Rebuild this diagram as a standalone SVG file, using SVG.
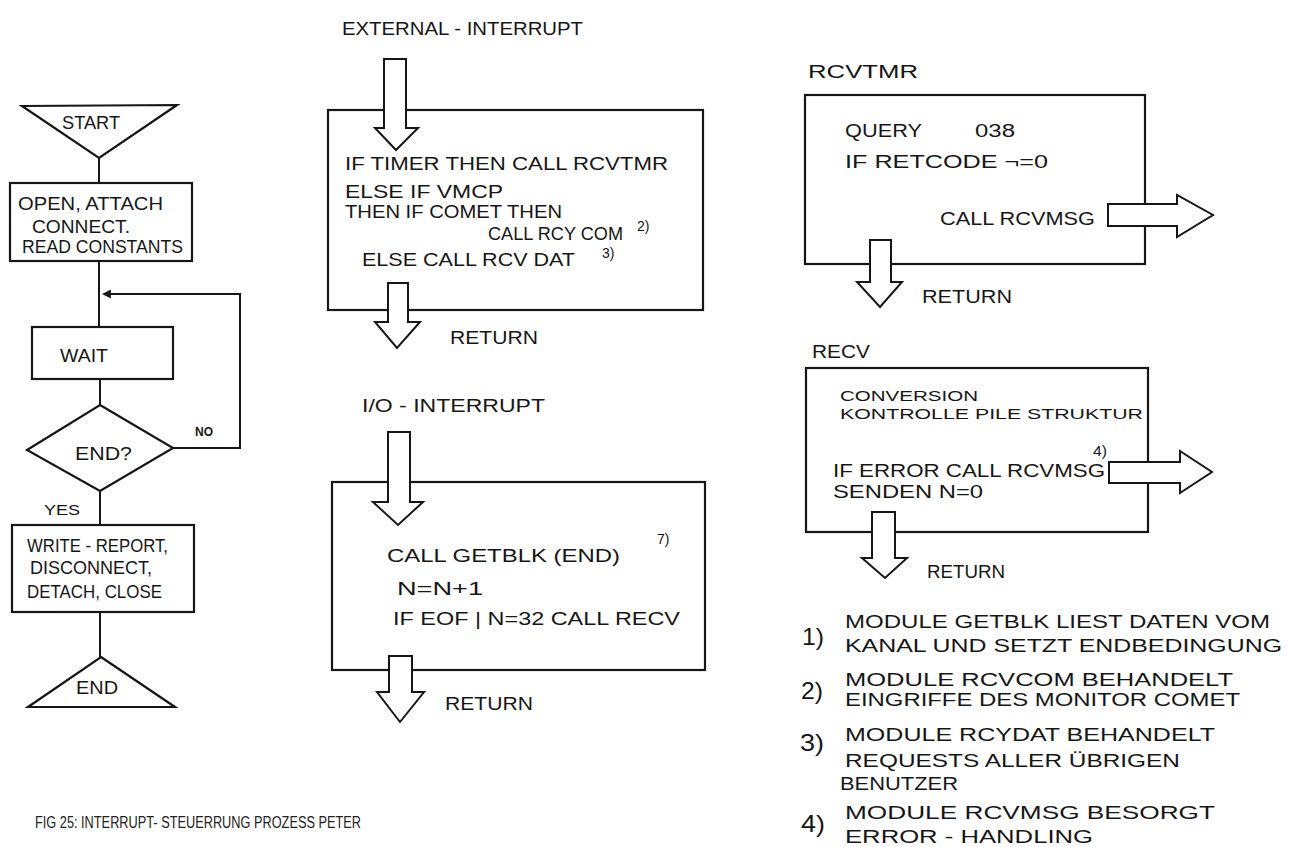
<svg xmlns="http://www.w3.org/2000/svg" width="1301" height="847" viewBox="0 0 1301 847">
<style>
.bg{fill:#ffffff}
.box{fill:#ffffff;stroke:#161616;stroke-width:2.2}
.ln{fill:none;stroke:#161616;stroke-width:2}
.blk{fill:#ffffff;stroke:#161616;stroke-width:2;stroke-linejoin:miter}
.t{font-family:"Liberation Sans",Arial,sans-serif;font-size:18px;fill:#161616}
.s{font-size:14px}
.n{font-size:24px}
.sm{font-size:15px}
.cap{font-family:"Liberation Sans",Arial,sans-serif;font-size:16px;fill:#222}
</style>
<defs>
<marker id="ah" viewBox="0 0 10 10" refX="1" refY="5" markerWidth="9" markerHeight="9" markerUnits="userSpaceOnUse" orient="auto-start-reverse">
<path d="M0,0 L10,5 L0,10 z" fill="#161616"/>
</marker>
</defs>
<rect class="bg" x="0" y="0" width="1301" height="847"/>

<!-- Left flowchart nodes -->
<g id="start">
<polygon class="box" points="22,106 177,105 99,158"/>
<text class="t" x="62" y="129" textLength="58" lengthAdjust="spacingAndGlyphs">START</text>
</g>
<g id="open">
<rect class="box" x="10" y="183" width="182" height="78"/>
<text class="t" x="18" y="210" textLength="145" lengthAdjust="spacingAndGlyphs">OPEN, ATTACH</text>
<text class="t" x="32" y="233" textLength="98" lengthAdjust="spacingAndGlyphs">CONNECT.</text>
<text class="t" x="22" y="253" textLength="161" lengthAdjust="spacingAndGlyphs">READ CONSTANTS</text>
</g>
<g id="wait">
<rect class="box" x="32" y="327" width="141" height="52"/>
<text class="t" x="60" y="362" textLength="48" lengthAdjust="spacingAndGlyphs">WAIT</text>
</g>
<g id="enddec">
<polygon class="box" points="100,405 173,448 100,491 27,450"/>
<text class="t" x="75" y="460" textLength="57" lengthAdjust="spacingAndGlyphs">END?</text>
</g>
<g id="write">
<rect class="box" x="12" y="525" width="182" height="87"/>
<text class="t" x="27" y="552" textLength="141" lengthAdjust="spacingAndGlyphs">WRITE - REPORT,</text>
<text class="t" x="30" y="574" textLength="122" lengthAdjust="spacingAndGlyphs">DISCONNECT,</text>
<text class="t" x="27" y="598" textLength="135" lengthAdjust="spacingAndGlyphs">DETACH, CLOSE</text>
</g>
<g id="end">
<polygon class="box" points="101,657 175,707 28,707"/>
<text class="t" x="76" y="694" textLength="42" lengthAdjust="spacingAndGlyphs">END</text>
</g>

<!-- Middle: external interrupt -->
<g id="ext">
<text class="t" x="342" y="35" textLength="241" lengthAdjust="spacingAndGlyphs">EXTERNAL - INTERRUPT</text>
<rect class="box" x="328" y="110" width="375" height="200"/>
<text class="t" x="345" y="170" textLength="323" lengthAdjust="spacingAndGlyphs">IF TIMER THEN CALL RCVTMR</text>
<text class="t" x="345" y="198" textLength="158" lengthAdjust="spacingAndGlyphs">ELSE IF VMCP</text>
<text class="t" x="345" y="218" textLength="217" lengthAdjust="spacingAndGlyphs">THEN IF COMET THEN</text>
<text class="t" x="488" y="240" textLength="135" lengthAdjust="spacingAndGlyphs">CALL RCY COM</text>
<text class="t s" x="637" y="231">2)</text>
<text class="t" x="362" y="266" textLength="213" lengthAdjust="spacingAndGlyphs">ELSE CALL RCV DAT</text>
<text class="t s" x="602" y="258">3)</text>
<text class="t" x="450" y="344" textLength="88" lengthAdjust="spacingAndGlyphs">RETURN</text>
</g>

<!-- Middle: I/O interrupt -->
<g id="io">
<text class="t" x="362" y="412" textLength="183" lengthAdjust="spacingAndGlyphs">I/O - INTERRUPT</text>
<rect class="box" x="332" y="482" width="373" height="188"/>
<text class="t" x="387" y="562" textLength="233" lengthAdjust="spacingAndGlyphs">CALL GETBLK (END)</text>
<text class="t s" x="657" y="544">7)</text>
<text class="t" x="397" y="595" textLength="86" lengthAdjust="spacingAndGlyphs">N=N+1</text>
<text class="t" x="393" y="625" textLength="287" lengthAdjust="spacingAndGlyphs">IF EOF | N=32 CALL RECV</text>
<text class="t" x="445" y="710" textLength="88" lengthAdjust="spacingAndGlyphs">RETURN</text>
</g>

<!-- Right: RCVTMR -->
<g id="rcvtmr">
<text class="t" x="808" y="78" textLength="110" lengthAdjust="spacingAndGlyphs">RCVTMR</text>
<rect class="box" x="805" y="95" width="340" height="169"/>
<text class="t" x="845" y="137" textLength="77" lengthAdjust="spacingAndGlyphs">QUERY</text>
<text class="t" x="975" y="137" textLength="40" lengthAdjust="spacingAndGlyphs">038</text>
<text class="t" x="845" y="168" textLength="203" lengthAdjust="spacingAndGlyphs">IF RETCODE ¬=0</text>
<text class="t" x="940" y="225" textLength="155" lengthAdjust="spacingAndGlyphs">CALL RCVMSG</text>
<text class="t" x="922" y="303" textLength="90" lengthAdjust="spacingAndGlyphs">RETURN</text>
</g>

<!-- Right: RECV -->
<g id="recv">
<text class="t" x="812" y="358" textLength="58" lengthAdjust="spacingAndGlyphs">RECV</text>
<rect class="box" x="806" y="368" width="342" height="164"/>
<text class="t sm" x="840" y="401" textLength="138" lengthAdjust="spacingAndGlyphs">CONVERSION</text>
<text class="t sm" x="840" y="419" textLength="303" lengthAdjust="spacingAndGlyphs">KONTROLLE  PILE STRUKTUR</text>
<text class="t s" x="1093" y="456" textLength="14" lengthAdjust="spacingAndGlyphs">4)</text>
<text class="t" x="833" y="477" textLength="272" lengthAdjust="spacingAndGlyphs">IF ERROR  CALL RCVMSG</text>
<text class="t" x="833" y="498" textLength="150" lengthAdjust="spacingAndGlyphs">SENDEN  N=0</text>
<text class="t" x="927" y="578" textLength="78" lengthAdjust="spacingAndGlyphs">RETURN</text>
</g>

<!-- Notes -->
<g id="notes">
<text class="t n" x="802" y="645" textLength="22" lengthAdjust="spacingAndGlyphs">1)</text>
<text class="t" x="845" y="628" textLength="425" lengthAdjust="spacingAndGlyphs">MODULE GETBLK LIEST DATEN VOM</text>
<text class="t" x="845" y="652" textLength="437" lengthAdjust="spacingAndGlyphs">KANAL UND SETZT ENDBEDINGUNG</text>
<text class="t n" x="801" y="699" textLength="22" lengthAdjust="spacingAndGlyphs">2)</text>
<text class="t" x="845" y="686" textLength="388" lengthAdjust="spacingAndGlyphs">MODULE RCVCOM BEHANDELT</text>
<text class="t" x="845" y="706" textLength="395" lengthAdjust="spacingAndGlyphs">EINGRIFFE DES MONITOR COMET</text>
<text class="t n" x="800" y="751" textLength="24" lengthAdjust="spacingAndGlyphs">3)</text>
<text class="t" x="845" y="741" textLength="370" lengthAdjust="spacingAndGlyphs">MODULE RCYDAT BEHANDELT</text>
<text class="t" x="845" y="767" textLength="335" lengthAdjust="spacingAndGlyphs">REQUESTS ALLER ÜBRIGEN</text>
<text class="t" x="840" y="790" textLength="118" lengthAdjust="spacingAndGlyphs">BENUTZER</text>
<text class="t n" x="801" y="832" textLength="24" lengthAdjust="spacingAndGlyphs">4)</text>
<text class="t" x="845" y="819" textLength="370" lengthAdjust="spacingAndGlyphs">MODULE RCVMSG BESORGT</text>
<text class="t" x="845" y="843" textLength="248" lengthAdjust="spacingAndGlyphs">ERROR - HANDLING</text>
</g>

<g id="caption">
<text class="cap" x="35" y="828" textLength="326" lengthAdjust="spacingAndGlyphs">FIG 25: INTERRUPT- STEUERRUNG PROZESS PETER</text>
</g>

<!-- Connectors -->
<g id="connectors">
<line class="ln" x1="99" y1="158" x2="99" y2="183"/>
<line class="ln" x1="99" y1="261" x2="99" y2="327"/>
<line class="ln" x1="100" y1="379" x2="100" y2="405"/>
<line class="ln" x1="100" y1="491" x2="100" y2="525"/>
<line class="ln" x1="100" y1="612" x2="100" y2="657"/>
<polyline class="ln" points="173,448 240,448 240,294 110,294" marker-end="url(#ah)"/>
<text class="t" x="195" y="436" style="font-size:12px;font-weight:bold">NO</text>
<text class="t" x="44" y="515" textLength="36" lengthAdjust="spacingAndGlyphs" style="font-size:15px">YES</text>

<!-- block arrows -->
<polygon class="blk" points="384,59 406,59 406,128 418,128 396,150 375,128 384,128"/>
<polygon class="blk" points="388,283 408,283 408,322 420,322 397,348 375,322 388,322"/>
<polygon class="blk" points="388,432 410,432 410,502 423,502 398,525 373,502 388,502"/>
<polygon class="blk" points="389,656 412,656 412,692 424,692 400,722 377,692 389,692"/>
<polygon class="blk" points="1108,204 1177,204 1177,195 1213,215 1177,237 1177,226 1108,226"/>
<polygon class="blk" points="870,240 891,240 891,282 902,282 880,307 857,282 870,282"/>
<polygon class="blk" points="1109,462 1180,462 1180,451 1212,472 1180,493 1180,483 1109,483"/>
<polygon class="blk" points="872,512 895,512 895,558 907,558 885,578 862,558 872,558"/>
</g>
</svg>
